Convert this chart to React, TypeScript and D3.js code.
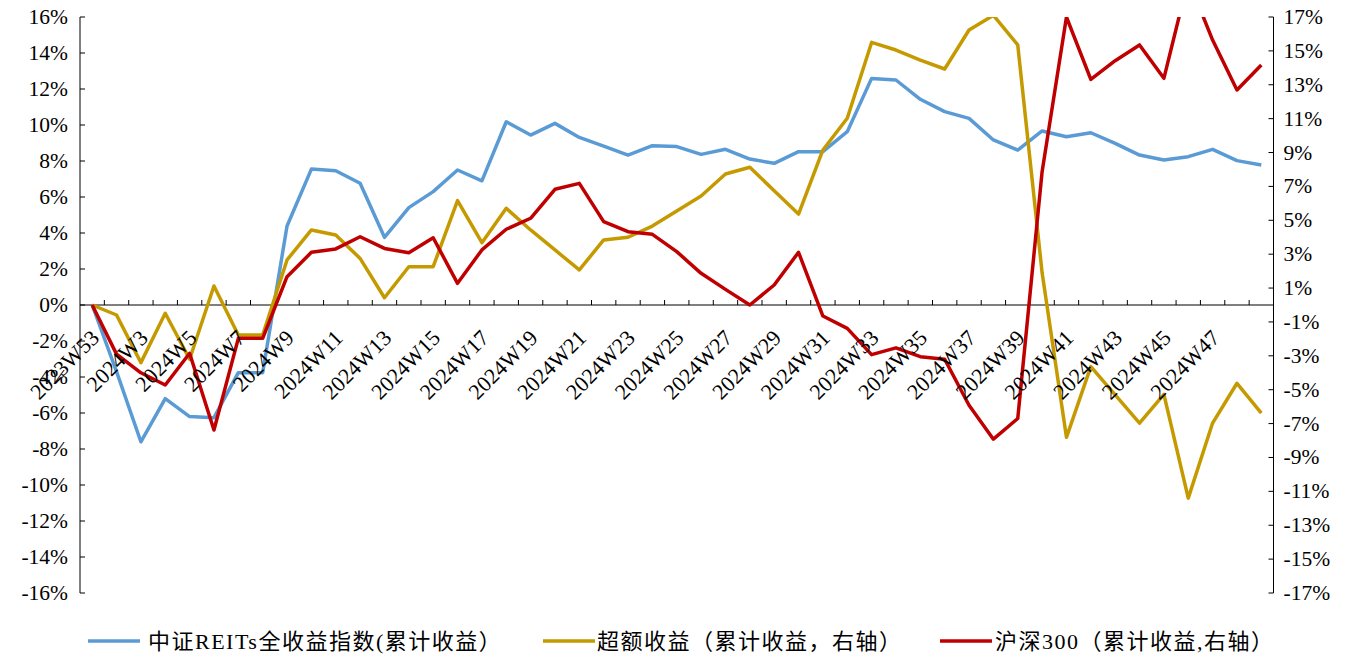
import * as d3 from "d3"
import { useEffect } from "react"

// weekly categories (2024W1 merged into 2023W53)
const weeks: string[] = ["2023W53"].concat(d3.range(2, 50).map((w) => `2024W${w}`))

// 中证REITs全收益指数 (left axis, %)
const reits = [
  0, -3.7, -7.6, -5.2, -6.2, -6.26, -3.76, -3.76, 4.39, 7.55, 7.46, 6.76, 3.76, 5.41, 6.3, 7.5,
  6.9, 10.18, 9.44, 10.09, 9.31, 8.83, 8.33, 8.85, 8.8, 8.37, 8.65, 8.11, 7.87, 8.52, 8.52, 9.63,
  12.59, 12.5, 11.43, 10.74, 10.37, 9.17, 8.61, 9.67, 9.35, 9.57, 8.98, 8.33, 8.06, 8.24, 8.65,
  8.02, 7.78,
]

// 超额收益 (right axis, %)
const excess = [
  0, -0.59, -3.4, -0.49, -3.2, 1.12, -1.77, -1.77, 2.66, 4.43, 4.13, 2.75, 0.43, 2.26, 2.26, 6.16,
  3.68, 5.71, 4.43, 3.25, 2.07, 3.84, 4.0, 4.66, 5.55, 6.43, 7.73, 8.13, 6.75, 5.37, 9.15, 11.02,
  15.5, 15.05, 14.46, 13.93, 16.23, 17.1, 15.35, 1.9, -7.81, -3.64, -5.3, -6.97, -5.27, -11.4,
  -6.97, -4.62, -6.38,
]

// 沪深300 (right axis, %)
const csi300 = [
  0, -2.9, -4.0, -4.72, -2.85, -7.38, -1.97, -1.97, 1.67, 3.11, 3.31, 4.03, 3.34, 3.09, 3.97, 1.28,
  3.25, 4.47, 5.12, 6.83, 7.18, 4.92, 4.33, 4.17, 3.15, 1.87, 0.92, 0.0, 1.18, 3.11, -0.65, -1.38,
  -2.93, -2.53, -3.05, -3.2, -5.92, -7.92, -6.7, 7.87, 17.0, 13.32, 14.42, 15.35, 13.38, 19.2,
  15.64, 12.69, 14.17,
]

const leftTicks = d3.range(-16, 17, 2)
const rightTicks = d3.range(-17, 18, 2)
// every other week is labelled, the last one is not shown
const shownLabels = weeks.filter((_, i) => i % 2 === 0 && i < weeks.length - 1)

const series = [
  { name: "中证REITs全收益指数(累计收益）", data: reits, color: "#5B9BD5", axis: "left" },
  { name: "超额收益（累计收益，右轴）", data: excess, color: "#C59A00", axis: "right" },
  { name: "沪深300（累计收益,右轴）", data: csi300, color: "#C00000", axis: "right" },
]

const W = 1360
const H = 659
const margin = { top: 17, right: 86.5, bottom: 66, left: 80 }
const font = "'Liberation Serif', 'Times New Roman', serif"
const cjkFont = "'Liberation Serif', 'Noto Sans CJK SC', serif"

export default function App() {
  useEffect(() => {
    document.body.style.margin = "0"
  }, [])

  const x0 = margin.left
  const x1 = W - margin.right
  const y0 = margin.top
  const y1 = H - margin.bottom

  const band = d3.scaleBand<string>().domain(weeks).range([x0, x1]).padding(0)
  const cx = (w: string) => (band(w) ?? 0) + band.bandwidth() / 2
  const yL = d3.scaleLinear().domain([-16, 16]).range([y1, y0])
  const yR = d3.scaleLinear().domain([-17, 17]).range([y1, y0])
  const zeroY = yL(0)

  const lineFor = (scale: d3.ScaleLinear<number, number>) =>
    d3
      .line<number>()
      .x((_, i) => cx(weeks[i]))
      .y((d) => scale(d))

  const legendItems = [
    { x: 88, tx: 148 },
    { x: 543, tx: 597 },
    { x: 940, tx: 995 },
  ]

  return (
    <div style={{ position: "absolute", left: 0, top: 0 }}>
      <svg width={W} height={H} style={{ display: "block", background: "#fff" }}>
        <defs>
          <clipPath id="plot">
            <rect x={x0} y={y0} width={x1 - x0} height={y1 - y0} />
          </clipPath>
        </defs>

        {/* left axis */}
        <line x1={x0} x2={x0} y1={y0} y2={y1} stroke="#000" strokeWidth={1} />
        {leftTicks.map((t) => (
          <g key={"l" + t}>
            <line x1={x0} x2={x0 + 5} y1={yL(t)} y2={yL(t)} stroke="#000" />
            <text
              x={x0 - 12}
              y={yL(t)}
              textAnchor="end"
              dominantBaseline="central"
              fontFamily={font}
              fontSize={21.5}
              fill="#000"
            >
              {t}%
            </text>
          </g>
        ))}

        {/* right axis */}
        <line x1={x1} x2={x1} y1={y0} y2={y1} stroke="#000" strokeWidth={1} />
        {rightTicks.map((t) => (
          <g key={"r" + t}>
            <line x1={x1 - 5} x2={x1} y1={yR(t)} y2={yR(t)} stroke="#000" />
            <text
              x={x1 + 10}
              y={yR(t)}
              textAnchor="start"
              dominantBaseline="central"
              fontFamily={font}
              fontSize={21.5}
              fill="#000"
            >
              {t}%
            </text>
          </g>
        ))}

        {/* category axis at zero */}
        <line x1={x0} x2={x1} y1={zeroY} y2={zeroY} stroke="#000" strokeWidth={1} />
        {weeks.slice(1).map((w) => (
          <line
            key={"t" + w}
            x1={band(w)}
            x2={band(w)}
            y1={zeroY}
            y2={zeroY - 5}
            stroke="#000"
          />
        ))}

        {/* lines */}
        <g clipPath="url(#plot)">
          {series.map((s) => (
            <path
              key={s.name}
              d={lineFor(s.axis === "left" ? yL : yR)(s.data) ?? ""}
              fill="none"
              stroke={s.color}
              strokeWidth={3.5}
              strokeLinejoin="round"
            />
          ))}
        </g>

        {/* category labels */}
        {shownLabels.map((w) => (
          <text
            key={"x" + w}
            transform={`translate(${cx(w) + 3},${zeroY + 29}) rotate(-45)`}
            textAnchor="end"
            dominantBaseline="central"
            fontFamily={font}
            fontSize={22}
            fill="#000"
          >
            {w}
          </text>
        ))}

        {/* legend */}
        {series.map((s, i) => (
          <g key={"lg" + s.name}>
            <line
              x1={legendItems[i].x}
              x2={legendItems[i].x + 52}
              y1={641}
              y2={641}
              stroke={s.color}
              strokeWidth={3.5}
            />
            <text
              x={legendItems[i].tx}
              y={641}
              dominantBaseline="central"
              fontFamily={cjkFont}
              fontSize={22}
              letterSpacing={1.5}
              fill="#000"
            >
              {s.name}
            </text>
          </g>
        ))}
      </svg>
    </div>
  )
}
